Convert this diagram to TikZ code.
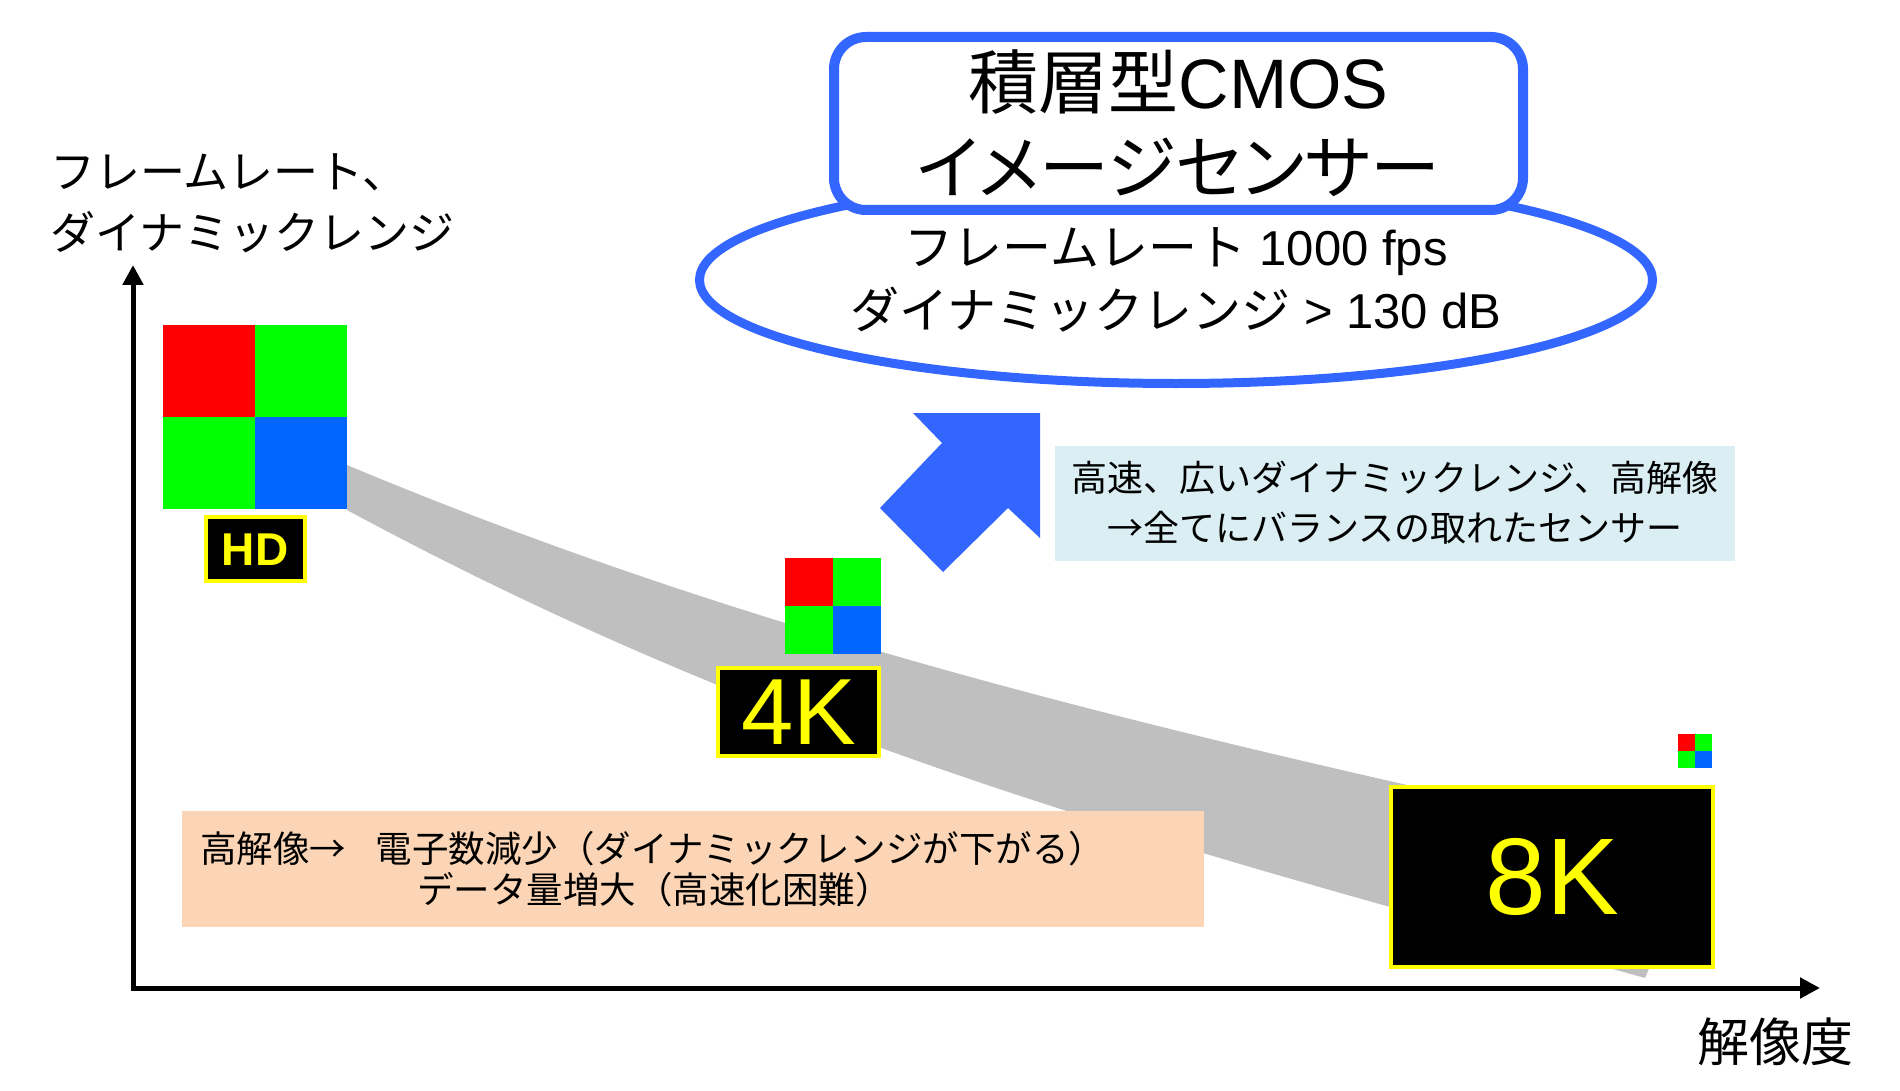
\documentclass[tikz,border=0pt]{standalone}
\usepackage{fontspec}
\setmainfont{Liberation Sans}
\newfontfamily\jp{Noto Sans CJK JP}
\newfontfamily\jpp[RawFeature=+palt]{Noto Sans CJK JP}
\usepackage{tikz}
\usetikzlibrary{shapes}
\usetikzlibrary{arrows.meta}
\usetikzlibrary{positioning}

\definecolor{sensorblue}{HTML}{3366FF}
\definecolor{pixred}{HTML}{FF0000}
\definecolor{pixgreen}{HTML}{00FF00}
\definecolor{pixblue}{HTML}{0066FF}
\definecolor{bandgray}{HTML}{BFBFBF}
\definecolor{notebg}{HTML}{DAEEF3}
\definecolor{warnbg}{HTML}{FBD5B5}
\definecolor{labelyellow}{HTML}{FFFF00}

% name, x, y (top left), half size
\newcommand{\bayer}[4]{%
\fill[pixred] (#2,#3) rectangle ++(#4,#4);
\fill[pixgreen] (#2+#4,#3) rectangle ++(#4,#4);
\fill[pixgreen] (#2,#3+#4) rectangle ++(#4,#4);
\fill[pixblue] (#2+#4,#3+#4) rectangle ++(#4,#4);
\node[inner sep=0pt,minimum size=2*#4,anchor=north west] (#1) at (#2,#3) {};
}

\begin{document}
\begin{tikzpicture}[x=1pt,y=-1pt]
\tikzstyle{axis}=[line width=5pt,line join=miter,
arrows={Triangle[length=20pt,width=20pt]-Triangle[length=20pt,width=20pt]}]
\tikzstyle{reslabel}=[rectangle,draw=labelyellow,fill=black,text=labelyellow,
line width=4pt,inner sep=0pt]
\tikzstyle{plain}=[inner sep=0pt]
\useasboundingbox (0,0) rectangle (1900,1091);

\fill[bandgray] (347,465) .. controls (800,655) and (1250,751) .. (1700,850)
-- (1645,978) .. controls (1195,852) and (797,753) .. (347,510) -- cycle;

\coordinate (origin) at (133,988);
\coordinate (ytop) at (133,265);
\coordinate (xend) at (1820,988);
\draw[axis] (ytop) -- (origin) -- (xend);
\node[plain,align=left,anchor=west,font=\jp\fontsize{45}{61}\selectfont] (ylabel) at (50,203)
{フレームレート、\\ダイナミックレンジ};
\node[plain,font=\jp\fontsize{52}{52}\selectfont] (xlabel) at (1775,1042) {解像度};

\bayer{hdpix}{163}{325}{92}
\bayer{kkpix}{785}{558}{48}
\bayer{eightpix}{1678}{734}{17}
\node[reslabel,minimum width=99,minimum height=64,font=\bfseries\fontsize{46}{46}\selectfont] (hd)
[below=6pt of hdpix] {HD};
\node[reslabel,minimum width=161,minimum height=88,font=\fontsize{94}{94}\selectfont] (fourk)
[below=12pt of kkpix.south east,anchor=north east] {4K};
\node[reslabel,minimum width=322,minimum height=180,font=\fontsize{109}{109}\selectfont] (eightk)
[below=17pt of eightpix.south east,anchor=north east,xshift=3pt] {8K};

\node[fill=warnbg,text width=986pt,inner xsep=18pt,inner ysep=0pt,minimum height=116pt,
align=left,font=\jp\fontsize{36.5}{41}\selectfont] (tradeoff) at (693,869)
{高解像→\hspace{30pt}電子数減少（ダイナミックレンジが下がる）\\\hspace*{217pt}データ量増大（高速化困難）};

\fill[sensorblue] (1040,413) -- (913,413) -- (942,443) -- (880,508) -- (943,572)
-- (1008,508) -- (1040,538) -- cycle;
\node[plain,fill=notebg,minimum width=680,minimum height=115,align=center,
font=\jp\fontsize{36}{50}\selectfont] (balance) at (1395,503)
{高速、広いダイナミックレンジ、高解像\\→全てにバランスの取れたセンサー};

\node[ellipse,draw=sensorblue,line width=9pt,fill=white,minimum width=953,minimum height=207,
plain,align=center,font=\fontsize{49}{63}\selectfont] (spec) at (1176,280)
{{\jp フレームレート} 1000 fps\\{\jp ダイナミックレンジ} > 130 dB};
\node[rectangle,rounded corners=32pt,draw=sensorblue,line width=10pt,fill=white,
minimum width=689,minimum height=173,plain,align=center,font=\fontsize{70}{85}\selectfont]
(title) at (1178.5,123.5) {{\jpp 積層型}CMOS\\{\jpp イメージセンサー}};
\end{tikzpicture}
\end{document}
